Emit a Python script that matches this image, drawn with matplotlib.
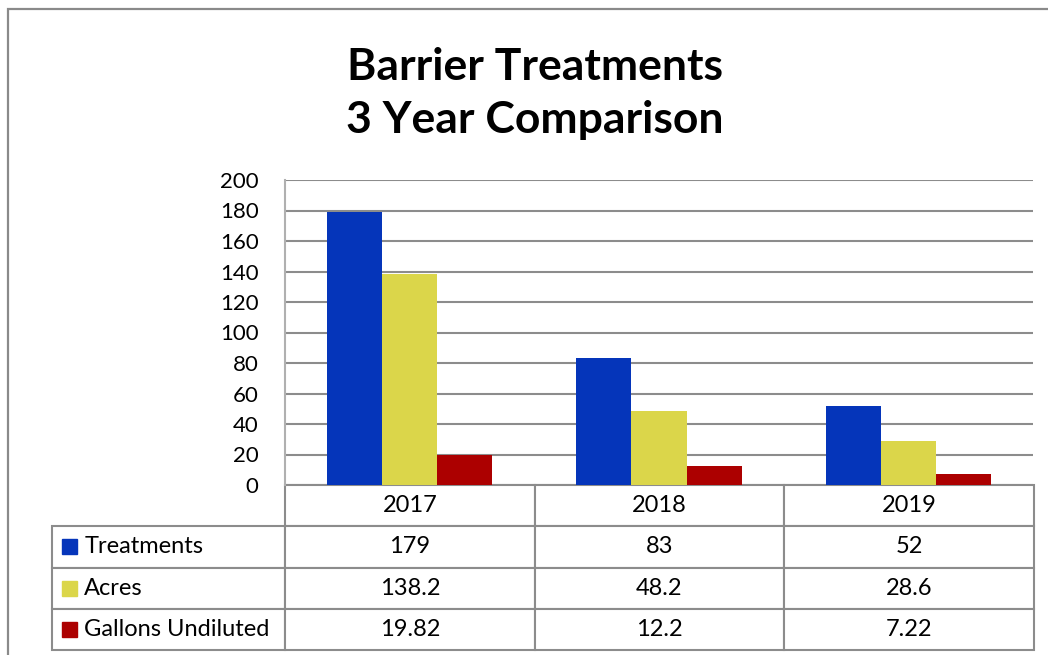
import matplotlib
matplotlib.use("Agg")
import matplotlib.pyplot as plt
from matplotlib.patches import Rectangle
import numpy as np

plt.rcParams['font.family'] = ['Lato', 'DejaVu Sans']

years = ["2017", "2018", "2019"]
series = ["Treatments", "Acres", "Gallons Undiluted"]
treatments = [179, 83, 52]
acres = [138.2, 48.2, 28.6]
gallons = [19.82, 12.2, 7.22]
colors = ["#0535BA", "#DBD64A", "#AC0000"]
title = "Barrier Treatments\n3 Year Comparison"
yticks = [0, 20, 40, 60, 80, 100, 120, 140, 160, 180, 200]

W, H = 1048, 655
fig = plt.figure(figsize=(W / 100, H / 100), dpi=100)
fig.patch.set_facecolor("white")

# outer chart border (cropped on right/bottom)
fig.add_artist(Rectangle((8 / W, -0.2), 1.2, (H - 9) / H + 0.2,
                         transform=fig.transFigure, fill=False,
                         edgecolor="#8a8a8a", lw=1.6))

ax = fig.add_axes([285 / W, (H - 485) / H, 748 / W, 305 / H])
gray = "#8c8c8c"
x = np.arange(len(years))
w = 0.221
data = [treatments, acres, gallons]
for i, (vals, c) in enumerate(zip(data, colors)):
    ax.bar(x + (i - 1) * w, vals, width=w, color=c, zorder=3)

ax.set_xlim(-0.5, len(years) - 0.5)
ax.set_ylim(0, 200)
ax.set_yticks(yticks)
ax.set_yticklabels([str(t) for t in yticks], fontsize=16)
ax.tick_params(axis='y', length=0, pad=19)
ax.set_xticks([])
ax.yaxis.grid(True, color=gray, lw=1.5, zorder=0)
ax.set_axisbelow(True)
for s in ["top", "right", "bottom"]:
    ax.spines[s].set_visible(False)
ax.spines["left"].set_color("#b0b0b0")
ax.spines["left"].set_linewidth(1.5)

ax.set_title(title, fontsize=32, fontweight="bold", linespacing=1.4,
             x=(535 - 285) / 748, pad=33.5)

cell_text = [[str(v) for v in vals] for vals in data]
gx = 749 / 748
tbl = ax.table(cellText=cell_text, rowLabels=series, colLabels=years,
               cellLoc="center", rowLoc="left",
               colWidths=[1 / 3] * 3,
               bbox=[0, -(650 - 485) / 305, gx, (650 - 485) / 305])
tbl._autoColumns = []
tbl.auto_set_font_size(False)
tbl.set_fontsize(17)
for (r, c), cell in tbl.get_celld().items():
    cell.set_edgecolor(gray)
    cell.set_linewidth(1.5)
    if c == -1:
        cell.set_width(233 / 749)
        cell.PAD = 0.138

fig.canvas.draw()
cells = tbl.get_celld()
for i, c in enumerate(colors):
    cell = cells[(i + 1, -1)]
    sw = 15 / 748
    sh = 15 / 305
    ax.add_patch(Rectangle((cell.get_x() + 10 / 748,
                            cell.get_y() + cell.get_height() / 2 - sh / 2),
                           sw, sh, transform=ax.transAxes, color=c,
                           clip_on=False, zorder=5))

fig.savefig("out.png", dpi=100)
